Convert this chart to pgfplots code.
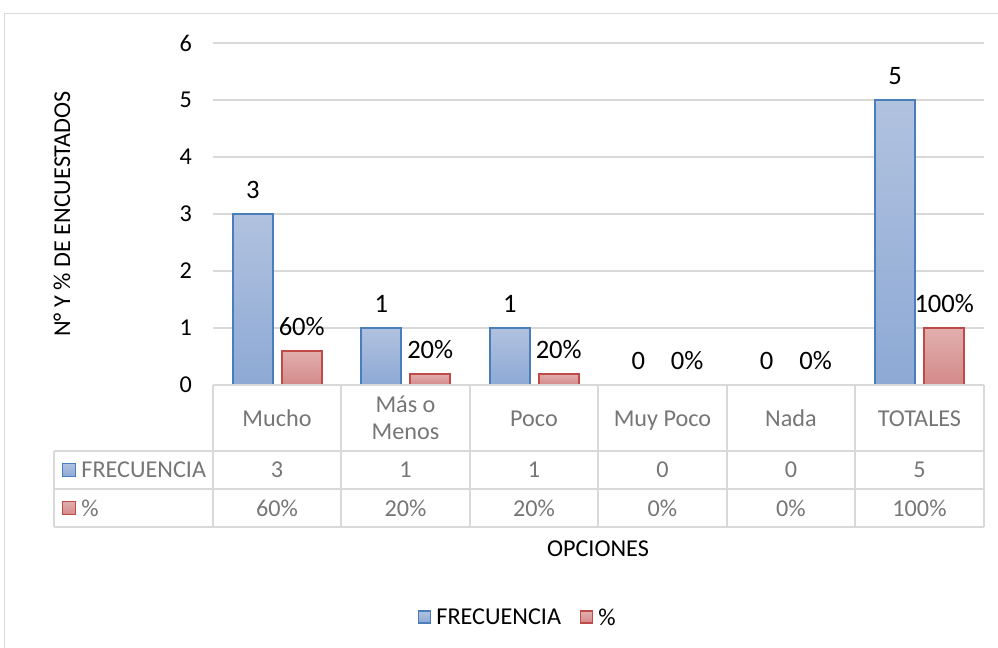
\documentclass[border=0pt]{standalone}
\usepackage{pgfplots}
\pgfplotsset{compat=1.18}
\usepackage{fontspec}
\setmainfont{Carlito}
\definecolor{gridgray}{HTML}{D9D9D9}
\definecolor{tgray}{HTML}{767676}
\definecolor{bluetop}{HTML}{B1C2DF}
\definecolor{bluebot}{HTML}{8DA9D5}
\definecolor{blueedge}{HTML}{4A7EBB}
\definecolor{redtop}{HTML}{E1AFAE}
\definecolor{redbot}{HTML}{D38A89}
\definecolor{rededge}{HTML}{BE4B48}
\newcommand\cf{\fontsize{12.1pt}{14.5pt}\selectfont}
\newcommand\df{\fontsize{13.3pt}{16pt}\selectfont}
\pgfplotsset{
  bluebar/.style={ybar, bar shift=-12.25pt, draw=blueedge, line width=0.9pt, top color=bluetop, bottom color=bluebot},
  redbar/.style={ybar, bar shift=12.25pt, draw=rededge, line width=0.9pt, top color=redtop, bottom color=redbot,
    point meta={y*100},
    nodes near coords={\pgfmathprintnumber[fixed,precision=0]{\pgfplotspointmeta}\%}},
}
\newcommand\bb[2]{\addplot[bluebar] coordinates {(#1,#2)};}
\newcommand\rb[2]{\addplot[redbar] coordinates {(#1,#2)};}
\begin{document}
\begin{tikzpicture}[x=0.5pt,y=-0.5pt]
\path[use as bounding box] (0,0) rectangle (998,648);
\draw[gridgray,line width=0.6pt] (4.5,648) -- (4.5,13.5) -- (998,13.5);
\coordinate (O) at (213,385);
\begin{axis}[
  at={(O)}, anchor=south west,
  width=385.5pt, height=171pt, scale only axis,
  xmin=-0.5, xmax=5.5, ymin=0, ymax=6,
  ytick={0,1,...,6}, xtick=\empty,
  ymajorgrids, grid style={gridgray,line width=0.7pt},
  axis line style={draw=none},
  major tick length=0pt,
  /pgf/number format/assume math mode=true,
  yticklabel style={font=\cf, text=black, xshift=-7pt},
  clip=false,
  ybar, bar width=20pt,
  nodes near coords,
  every node near coord/.append style={font=\df, text=black, anchor=center, yshift=12pt},
]
% FRECUENCIA
\bb{0}{3}
\bb{1}{1}
\bb{2}{1}
\bb{3}{0}
\bb{4}{0}
\bb{5}{5}
% %
\rb{0}{0.6}
\rb{1}{0.2}
\rb{2}{0.2}
\rb{3}{0}
\rb{4}{0}
\rb{5}{1}
\end{axis}
% data table
\begin{scope}[gridgray,line width=0.75pt]
\draw (213,385) -- (984,385);
\draw (54,451) -- (984,451);
\draw (54,489) -- (984,489);
\draw (54,527) -- (984,527);
\draw (54,451) -- (54,527);
\foreach \xx in {213,341,470,598,727,855,984} \draw (\xx,385) -- (\xx,527);
\end{scope}
\begin{scope}[every node/.style={font=\cf, text=tgray, inner sep=0pt}]
\node[anchor=base] at (277,426) {Mucho};
\node[align=center] at (405.5,418) {Más o\\[-1pt]Menos};
\node[anchor=base] at (534,426) {Poco};
\node[anchor=base] at (662.5,426) {Muy Poco};
\node[anchor=base] at (791,426) {Nada};
\node[anchor=base] at (919.5,426) {TOTALES};
\foreach \xx/\t in {277/3,405.5/1,534/1,662.5/0,791/0,919.5/5} \node at (\xx,470) {\t};
\foreach \xx/\t in {277/60\%,405.5/20\%,534/20\%,662.5/0\%,791/0\%,919.5/100\%} \node at (\xx,508) {\t};
\node[anchor=west] at (81,470) {FRECUENCIA};
\node[anchor=west] at (81,508) {\%};
\end{scope}
\draw[blueedge,line width=0.7pt,top color=bluetop,bottom color=bluebot] (62.5,463.5) rectangle (75.5,476.5);
\draw[rededge,line width=0.7pt,top color=redtop,bottom color=redbot] (62.5,501.5) rectangle (75.5,514.5);
% axis titles
\node[font=\cf, inner sep=0pt] at (598,549) {OPCIONES};
\node[font=\cf, inner sep=0pt, rotate=90] at (62,214) {N° Y \% DE ENCUESTADOS};
% legend
\draw[blueedge,line width=0.7pt,top color=bluetop,bottom color=bluebot] (418.5,611) rectangle (430.5,623);
\node[font=\cf, inner sep=0pt, anchor=west] at (436,617) {FRECUENCIA};
\draw[rededge,line width=0.7pt,top color=redtop,bottom color=redbot] (580.5,611) rectangle (592.5,623);
\node[font=\cf, inner sep=0pt, anchor=west] at (598,617) {\%};
\end{tikzpicture}
\end{document}
